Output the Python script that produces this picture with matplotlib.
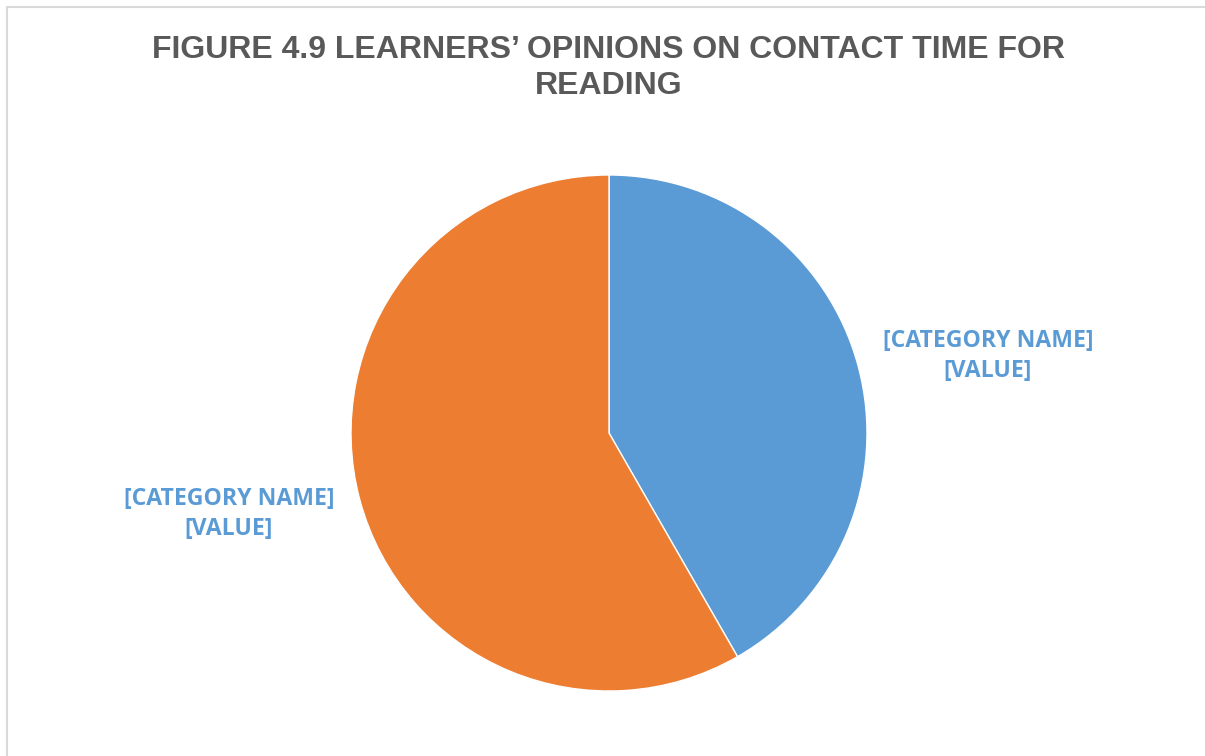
import matplotlib.pyplot as plt
from matplotlib.patches import Rectangle

# Data
categories = ["[CATEGORY NAME]", "[CATEGORY NAME]"]
values = [41.7, 58.3]
value_labels = ["[VALUE]", "[VALUE]"]
colors = ["#5B9BD5", "#ED7D31"]
title = "FIGURE 4.9 LEARNERS\u2019 OPINIONS ON CONTACT TIME FOR\nREADING"

W, H = 1205, 756
fig = plt.figure(figsize=(W / 100, H / 100), dpi=100)

# light chart border (right/bottom edges are cropped off in the original)
fig.patches.append(Rectangle((7 / W, -0.1), 1.2, (H - 7) / H + 0.1,
                             transform=fig.transFigure, fill=False,
                             edgecolor="#D9D9D9", linewidth=1.5))

fig.text(609 / W, 1 - 68 / H, title, ha="center", va="center",
         fontsize=23, fontweight="bold", color="#595959",
         family="Liberation Sans", linespacing=1.25)

cx, cy, r = 609, 433, 258
ax = fig.add_axes([(cx - r) / W, (H - cy - r) / H, 2 * r / W, 2 * r / H])
labels = [f"{c}\n{v}" for c, v in zip(categories, value_labels)]
wedges, texts = ax.pie(values, colors=colors, startangle=90, counterclock=False,
                       labels=labels, labeldistance=1.48,
                       wedgeprops=dict(edgecolor="white", linewidth=1),
                       textprops=dict(fontsize=16.6, fontweight="bold",
                                      color="#5B9BD5", family="Open Sans",
                                      linespacing=1.35))
# Excel nudges the data labels slightly off the mid-angle
label_pos = [(1.469, 0.298), (-1.473, -0.314)]
for t, p in zip(texts, label_pos):
    t.set_position(p)
    t.set_ha("center")
    t.set_va("center")
ax.set_xlim(-1, 1)
ax.set_ylim(-1, 1)
ax.set_aspect("equal")
ax.axis("off")

fig.savefig("out.png", dpi=100)
